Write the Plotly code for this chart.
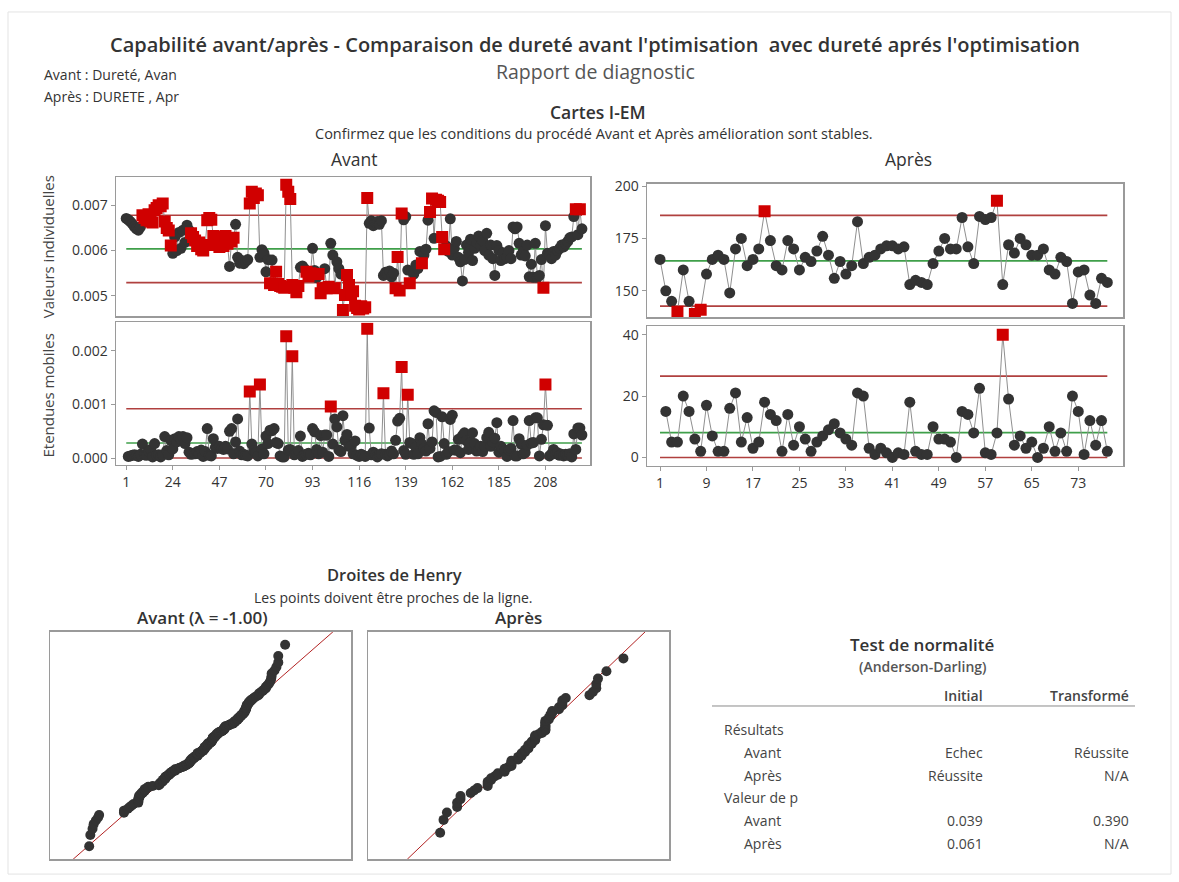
import numpy as np
import plotly.graph_objects as go
from statistics import NormalDist

W, H = 1179, 882
FONT = "Open Sans"

# ------------------------------------------------------------------ data
# Avant : Dureté, Avan (226 individual values)
avant = [
    0.00671, 0.00668, 0.00664, 0.00659, 0.00653, 0.00648, 0.00645, 0.00652, 0.00678, 0.00672,
    0.00667, 0.00680, 0.00664, 0.00662, 0.00689, 0.00694, 0.00700, 0.00698, 0.00704, 0.00664,
    0.00650, 0.00644, 0.00611, 0.00594, 0.00630, 0.00600, 0.00640, 0.00605, 0.00645, 0.00618,
    0.00656, 0.00645, 0.00638, 0.00630, 0.00622, 0.00610, 0.00618, 0.00603, 0.00600, 0.00612,
    0.00667, 0.00672, 0.00668, 0.00632, 0.00612, 0.00630, 0.00608, 0.00626, 0.00610, 0.00632,
    0.00615, 0.00565, 0.00620, 0.00628, 0.00658, 0.00585, 0.00572, 0.00578, 0.00571, 0.00576,
    0.00580, 0.00704, 0.00730, 0.00716, 0.00726, 0.00722, 0.00585, 0.00602, 0.00594, 0.00553,
    0.00580, 0.00528, 0.00579, 0.00524, 0.00553, 0.00526, 0.00522, 0.00520, 0.00518, 0.00745,
    0.00730, 0.00714, 0.00524, 0.00518, 0.00508, 0.00522, 0.00563, 0.00566, 0.00560, 0.00553,
    0.00544, 0.00550, 0.00605, 0.00556, 0.00540, 0.00548, 0.00506, 0.00517, 0.00560, 0.00517,
    0.00520, 0.00616, 0.00590, 0.00517, 0.00575, 0.00560, 0.00548, 0.00469, 0.00502, 0.00546,
    0.00524, 0.00502, 0.00510, 0.00478, 0.00473, 0.00470, 0.00477, 0.00472, 0.00475, 0.00716,
    0.00660, 0.00666, 0.00655, 0.00662, 0.00664, 0.00658, 0.00666, 0.00545, 0.00552, 0.00548,
    0.00555, 0.00542, 0.00550, 0.00517, 0.00586, 0.00512, 0.00682, 0.00668, 0.00675, 0.00557,
    0.00528, 0.00555, 0.00548, 0.00568, 0.00560, 0.00598, 0.00572, 0.00590, 0.00603, 0.00667,
    0.00685, 0.00715, 0.00627, 0.00712, 0.00710, 0.00707, 0.00630, 0.00603, 0.00610, 0.00598,
    0.00670, 0.00590, 0.00605, 0.00620, 0.00585, 0.00575, 0.00533, 0.00580, 0.00612, 0.00596,
    0.00625, 0.00578, 0.00605, 0.00618, 0.00632, 0.00610, 0.00622, 0.00600, 0.00638, 0.00590,
    0.00612, 0.00582, 0.00545, 0.00611, 0.00600, 0.00578, 0.00595, 0.00582, 0.00585, 0.00600,
    0.00582, 0.00652, 0.00648, 0.00652, 0.00616, 0.00590, 0.00598, 0.00588, 0.00612, 0.00542,
    0.00570, 0.00541, 0.00616, 0.00541, 0.00545, 0.00580, 0.00518, 0.00655, 0.00594, 0.00590,
    0.00582, 0.00598, 0.00590, 0.00600, 0.00605, 0.00612, 0.00608, 0.00615, 0.00620, 0.00628,
    0.00630, 0.00675, 0.00691, 0.00635, 0.00691, 0.00648,
]
# observations flagged (tests failed) on the Avant I chart
avant_red = [
    9, 10, 11, 12, 13, 14, 15, 16, 17, 18, 19, 20, 21, 22, 23,
    33, 34, 35, 36, 37, 38, 39, 40, 41, 42, 43, 44, 45, 46, 47, 48, 49, 50, 51, 53, 54,
    62, 63, 64, 65, 66, 72, 74, 75, 76, 77, 78, 79, 80, 81, 82, 83, 84, 85, 86,
    90, 91, 92, 96, 97, 98, 100, 101, 104,
    108, 109, 110, 111, 112, 113, 114, 115, 116, 117, 118, 119, 120,
    134, 135, 136, 137, 141, 147, 151, 152, 154, 155, 156, 157, 158, 207, 223, 225,
]

# Après : DURETE , Apr (78 individual values)
apres = [
    165, 150, 145, 140, 160, 145, 139, 141, 158, 165,
    167, 165, 149, 170, 175, 162, 165, 170, 188, 174,
    162, 160, 174, 170, 160, 166, 164, 169, 176, 167,
    156, 164, 158, 162, 183, 163, 166, 167, 170, 171.5,
    171.5, 170, 171, 153, 155, 154, 153, 163, 169, 175,
    170, 170, 185, 171, 163, 185.5, 184, 185, 193, 153,
    172, 168, 175, 172, 167, 167, 170, 160, 158, 166,
    164, 144, 159, 160, 148, 144, 156, 154,
]
apres_red = [4, 7, 8, 19, 59]

# control limits: UCL, CL, LCL
avant_I_lim = [0.006780, 0.006036, 0.005292]
avant_MR_lim = [0.000919, 0.000281, 0.0]
apres_I_lim = [186.0, 164.3, 142.7]
apres_MR_lim = [26.5, 8.1, 0.0]

avant_xticks = [1, 24, 47, 70, 93, 116, 139, 162, 185, 208]
apres_xticks = [1, 9, 17, 25, 33, 41, 49, 57, 65, 73]
avant_I_yticks = [0.005, 0.006, 0.007]
avant_I_ylabels = ["0.005", "0.006", "0.007"]
avant_MR_yticks = [0.0, 0.001, 0.002]
avant_MR_ylabels = ["0.000", "0.001", "0.002"]
apres_I_yticks = [150, 175, 200]
apres_MR_yticks = [0, 20, 40]

boxcox_lambda = -1.0

table_header = ["Initial", "Transformé"]
table_rows = [
    ("Résultats", None, None, 0),
    ("Avant", "Echec", "Réussite", 1),
    ("Après", "Réussite", "N/A", 1),
    ("Valeur de p", None, None, 0),
    ("Avant", "0.039", "0.390", 1),
    ("Après", "0.061", "N/A", 1),
]

# ------------------------------------------------------------------ styles
DARK = "#333333"
RED = "#d00000"
LIMC = "#b0403f"
CLC = "#3f9f4a"
CONN = "#8f8f8f"
BOXC = "#9a9a9a"


def xd(a, b):
    return [a / W, b / W]


def yd(top, bot):
    return [1 - bot / H, 1 - top / H]


fig = go.Figure()


def add_chart(values, red, lims, xa, ya, moving_range=False):
    n_obs = len(values)
    if moving_range:
        x = list(range(2, n_obs + 1))
        y = [abs(values[i] - values[i - 1]) for i in range(1, n_obs)]
        red_set = {xi for xi, yi in zip(x, y) if yi > lims[0]}
    else:
        x = list(range(1, n_obs + 1))
        y = list(values)
        red_set = set(red)
    for v, c in zip(lims, [LIMC, CLC, LIMC]):
        fig.add_trace(go.Scatter(x=[1, n_obs], y=[v, v], mode="lines",
                                 line=dict(color=c, width=1.6),
                                 xaxis=xa, yaxis=ya, hoverinfo="skip"))
    fig.add_trace(go.Scatter(x=x, y=y, mode="lines", line=dict(color=CONN, width=1),
                             xaxis=xa, yaxis=ya, hoverinfo="skip"))
    bx = [xi for xi in x if xi not in red_set]
    by = [yi for xi, yi in zip(x, y) if xi not in red_set]
    rx = [xi for xi in x if xi in red_set]
    ry = [yi for xi, yi in zip(x, y) if xi in red_set]
    fig.add_trace(go.Scatter(x=bx, y=by, mode="markers",
                             marker=dict(symbol="circle", size=11, color=DARK, line=dict(width=0)),
                             xaxis=xa, yaxis=ya))
    fig.add_trace(go.Scatter(x=rx, y=ry, mode="markers",
                             marker=dict(symbol="square", size=12, color=RED, line=dict(width=0)),
                             xaxis=xa, yaxis=ya))


add_chart(avant, avant_red, avant_I_lim, "x", "y")
add_chart(avant, avant_red, avant_MR_lim, "x2", "y2", moving_range=True)
add_chart(apres, apres_red, apres_I_lim, "x3", "y3")
add_chart(apres, apres_red, apres_MR_lim, "x4", "y4", moving_range=True)

# ---- normal probability plots
nd = NormalDist()


def prob(vals):
    v = np.sort(np.asarray(vals, dtype=float))
    n = len(v)
    z = np.array([nd.inv_cdf((i - 0.3) / (n + 0.4)) for i in range(1, n + 1)])
    return v, z, v.mean(), v.std(ddof=1)


# Box-Cox transform (lambda = -1), order preserving sign
avant_t = [-(v ** boxcox_lambda) for v in avant]
pv_a, pz_a, mu_a, sd_a = prob(avant_t)
pv_p, pz_p, mu_p, sd_p = prob(apres)
ZMAX = 3.09

for (pv, pz, mu, sd, xa, ya) in [(pv_a, pz_a, mu_a, sd_a, "x5", "y5"),
                                 (pv_p, pz_p, mu_p, sd_p, "x6", "y6")]:
    fig.add_trace(go.Scatter(x=[mu - ZMAX * sd, mu + ZMAX * sd], y=[-ZMAX, ZMAX], mode="lines",
                             line=dict(color="#b22222", width=1), xaxis=xa, yaxis=ya))
    fig.add_trace(go.Scatter(x=pv, y=pz, mode="markers",
                             marker=dict(symbol="circle", size=10, color=DARK, line=dict(width=0)),
                             xaxis=xa, yaxis=ya))

# ------------------------------------------------------------------ axes
base = dict(showline=True, mirror=True, linecolor=BOXC, linewidth=1.5, showgrid=False,
            zeroline=False, fixedrange=True,
            tickfont=dict(family=FONT, size=14, color=DARK))
tk = dict(ticks="outside", ticklen=4, tickcolor=BOXC, tickwidth=1)
noticks = dict(ticks="", showticklabels=False)

AV_X = xd(116, 590)
AP_X = xd(647, 1123)
layout_axes = dict(
    xaxis=dict(base, **noticks, domain=AV_X, range=[-4.06, 230.0], anchor="y"),
    yaxis=dict(base, **tk, domain=yd(171, 312), range=[0.004545, 0.007622],
               tickvals=avant_I_yticks, ticktext=avant_I_ylabels, anchor="x"),
    xaxis2=dict(base, **tk, domain=AV_X, range=[-4.06, 230.0], tickvals=avant_xticks, anchor="y2"),
    yaxis2=dict(base, **tk, domain=yd(318, 462), range=[-0.000125, 0.00253],
                tickvals=avant_MR_yticks, ticktext=avant_MR_ylabels, anchor="x2"),
    xaxis3=dict(base, **noticks, domain=AP_X, range=[-1.24, 80.7], anchor="y3"),
    yaxis3=dict(base, **tk, domain=yd(178, 313), range=[137.3, 201.0],
                tickvals=apres_I_yticks, anchor="x3"),
    xaxis4=dict(base, **tk, domain=AP_X, range=[-1.24, 80.7], tickvals=apres_xticks, anchor="y4"),
    yaxis4=dict(base, **tk, domain=yd(322, 463), range=[-2.7, 42.7],
                tickvals=apres_MR_yticks, anchor="x4"),
    xaxis5=dict(base, **noticks, domain=xd(50, 351), range=[mu_a - 3.64 * sd_a, mu_a + 3.52 * sd_a], anchor="y5"),
    yaxis5=dict(base, **noticks, domain=yd(631, 861), range=[-ZMAX, ZMAX], anchor="x5"),
    xaxis6=dict(base, **noticks, domain=xd(368, 669), range=[mu_p - 4.11 * sd_p, mu_p + 3.71 * sd_p], anchor="y6"),
    yaxis6=dict(base, **noticks, domain=yd(631, 861), range=[-ZMAX, ZMAX], anchor="x6"),
)

# ------------------------------------------------------------------ texts
ann = []


def text(t, x, y, size, color=DARK, xanchor="center", weight="normal", angle=0):
    ann.append(dict(text=t, x=x / W, y=1 - y / H, xref="paper", yref="paper", showarrow=False,
                    xanchor=xanchor, yanchor="middle", textangle=angle,
                    font=dict(family=FONT, size=size, color=color, weight=weight)))


text("Capabilité avant/après - Comparaison de dureté avant l'ptimisation  avec dureté aprés l'optimisation",
     595, 37, 20, weight=600)
text("Rapport de diagnostic", 595, 64, 19.5, color="#555555")
text("Avant : Dureté, Avan", 42, 67, 14, xanchor="left")
text("Après : DURETE , Apr", 42, 90, 14, xanchor="left")
text("Cartes I-EM", 598, 105, 17.5, weight=600)
text("Confirmez que les conditions du procédé Avant et Après amélioration sont stables.", 594, 127, 14.5)
text("Avant", 354, 153, 17.5)
text("Après", 908, 153, 17.5)
text("Valeurs individuelles", 48, 242, 15, color="#444444", angle=-90)
text("Etendues mobiles", 48, 392, 15, color="#444444", angle=-90)

text("Droites de Henry", 394, 573, 16.5, weight=600)
text("Les points doivent être proches de la ligne.", 393, 596, 14)
text("Avant (λ = -1.00)", 202, 616, 17, weight=600)
text("Après", 518, 616, 17, weight=600)

text("Test de normalité", 922, 644, 17, weight=600)
text("(Anderson-Darling)", 923, 666, 14, color="#555555", weight=600)
text(table_header[0], 985, 695, 14, color="#444444", xanchor="right", weight=600)
text(table_header[1], 1131, 695, 14, color="#444444", xanchor="right", weight=600)
row_y = [730, 753, 776, 799, 822, 845]
for (lab, c1, c2, indent), yy in zip(table_rows, row_y):
    text(lab, 722 + 20 * indent, yy, 14, color="#444444", xanchor="left")
    if c1 is not None:
        text(c1, 985, yy, 14, color="#444444", xanchor="right")
        text(c2, 1131, yy, 14, color="#444444", xanchor="right")

shapes = [
    dict(type="line", xref="paper", yref="paper", x0=712 / W, x1=1135 / W,
         y0=1 - 706 / H, y1=1 - 706 / H, line=dict(color="#8a8a8a", width=1)),
    dict(type="rect", xref="paper", yref="paper", x0=8 / W, x1=1171 / W,
         y0=1 - 876 / H, y1=1 - 4 / H, line=dict(color="#e3e3e3", width=1)),
]

fig.update_layout(
    width=W, height=H, margin=dict(l=0, r=0, t=0, b=0),
    paper_bgcolor="white", plot_bgcolor="white", showlegend=False,
    font=dict(family=FONT, color=DARK),
    annotations=ann, shapes=shapes, hovermode=False,
    **layout_axes,
)

fig.write_html("out.html", config={"displayModeBar": False, "staticPlot": True},
               post_script="document.body.style.margin='0';")
